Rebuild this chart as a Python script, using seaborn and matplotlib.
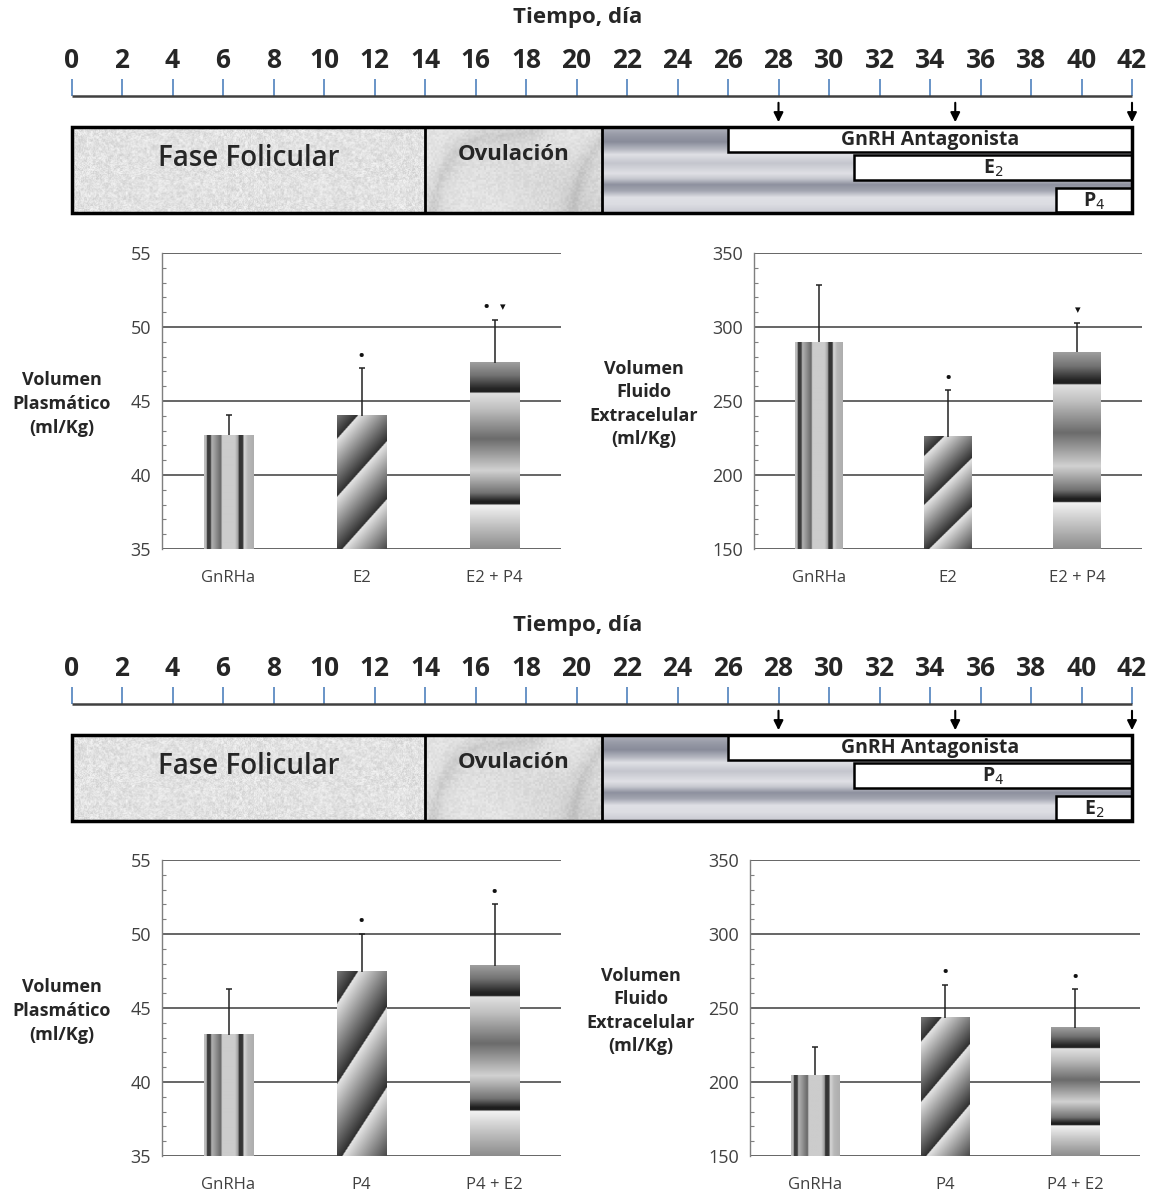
import numpy as np
import seaborn as sns
import matplotlib.pyplot as plt
from matplotlib.patches import Rectangle
from matplotlib.ticker import AutoMinorLocator, MultipleLocator

# ---- datos de la linea de tiempo ----
dias = list(range(0, 43, 2))
fases = ["Fase Folicular", "Ovulación"]
fase_ini = [0, 14]
fase_fin = [14, 21]
fin_ciclo = 42
dias_inyeccion = [28, 35, 42]
trat_ini = [26, 31, 39]
trat_sup = ["GnRH Antagonista", "E$_2$", "P$_4$"]
trat_inf = ["GnRH Antagonista", "P$_4$", "E$_2$"]

# ---- datos de las barras ----
grupos_sup = ["GnRHa", "E2", "E2 + P4"]
vp_sup = [42.7, 44.0, 47.6]
vp_sup_err = [1.35, 3.2, 2.9]
vp_sup_sig = [[], ["•"], ["•", "▾"]]
vfe_sup = [289.6, 225.7, 282.9]
vfe_sup_err = [39.0, 31.5, 19.8]
vfe_sup_sig = [[], ["•"], ["▾"]]

grupos_inf = ["GnRHa", "P4", "P4 + E2"]
vp_inf = [43.2, 47.45, 47.85]
vp_inf_err = [3.1, 2.55, 4.15]
vp_inf_sig = [[], ["•"], ["•"]]
vfe_inf = [204.5, 243.5, 236.7]
vfe_inf_err = [18.9, 22.3, 25.9]
vfe_inf_sig = [[], ["•"], ["•"]]

W, H = 1156, 1193
sns.set_theme(style="white")
plt.rcParams["font.family"] = ["Open Sans", "DejaVu Sans"]
fig = plt.figure(figsize=(W / 100, H / 100), dpi=100)


# ---- texturas (decorativas) ----
def ruido(i, j, s=0.0):
    v = np.sin(i * 12.9898 + j * 78.233 + s) * 43758.5453
    return v - np.floor(v)


yy, xx = np.mgrid[0:88, 0:356].astype(float)
granito = 0.80 + 0.17 * (0.6 * ruido(xx, yy) + 0.4 * ruido(xx // 3, yy // 3, 1.7))

yy, xx = np.mgrid[0:88, 0:180].astype(float)
xn, yn = xx / 88.0, yy / 88.0
t = np.sin(2.2 * (xn + 1.2 * yn) + 1.0 * np.sin(2.0 * yn + 1.0) + 0.6 * np.sin(3.5 * xn))
marmol = 0.92 - 0.09 * (1 - np.abs(t)) ** 2 - 0.07 * (0.5 + 0.5 * np.sin(2 * xn - 3 * yn)) * yn
marmol -= 0.06 * ruido(xx // 2, yy // 2, 3.1)

tt = np.linspace(0, 1, 200)
perfil = np.interp(tt, [0, 0.08, 0.17, 0.26, 0.32, 0.42, 0.54, 0.6, 0.67, 0.74, 0.82, 0.9, 1.0],
                   [0.6, 0.45, 0.35, 0.62, 0.86, 0.7, 0.86, 0.72, 0.38, 0.5, 0.86, 0.84, 0.72])
oscuro = np.array([0.30, 0.32, 0.40])
claro = np.array([0.97, 0.97, 0.98])
lutea = oscuro + (claro - oscuro) * perfil[:, None, None] * np.ones((1, 300, 1))

u = np.linspace(0, 1, 200)
rayas_v = np.tile(np.interp(u, [0, 0.05, 0.06, 0.13, 0.15, 0.22, 0.34, 0.36, 0.62, 0.69, 0.70, 0.78, 0.80, 0.88, 1.0],
                            [0.75, 0.72, 0.22, 0.25, 0.7, 0.6, 0.4, 0.8, 0.8, 0.6, 0.2, 0.22, 0.85, 0.72, 0.68]), (10, 1))

vv, uu = np.mgrid[0:1:300j, 0:1:100j]
fase = 2.3 * vv - 0.95 * uu + 0.1
diagonal = 0.18 + 0.72 * (fase - np.floor(fase))

vv = np.linspace(0, 1, 400)
bandas = np.interp(vv, [0, 0.12, 0.235, 0.24, 0.255, 0.3, 0.42, 0.59, 0.75, 0.835, 0.84, 0.86, 0.93, 1.0],
                   [0.55, 0.75, 0.95, 0.12, 0.12, 0.45, 0.82, 0.42, 0.75, 0.88, 0.12, 0.15, 0.45, 0.62])[:, None] * np.ones((1, 10))
patrones = [rayas_v, diagonal, bandas]


def linea_tiempo(y0, tratamientos):
    ax = fig.add_axes([0, 1 - (y0 + 230) / H, 1, 230 / H])
    ax.axis("off")
    fig.text(0.5, 1 - (y0 + 18) / H, "Tiempo, día", fontsize=16, fontweight="bold", ha="center", va="center")
    for d in dias:
        ax.text(d, 61, str(d), ha="center", va="center", fontsize=19, fontweight="bold")
    ax.vlines(dias, 79, 96, color="#4f81bd", lw=1.2)
    ax.hlines(96, 0, fin_ciclo, color="#404040", lw=1.8)
    for d in dias_inyeccion:
        ax.annotate("", xy=(d, 125), xytext=(d, 100),
                    arrowprops=dict(arrowstyle="-|>", color="black", lw=1.5, mutation_scale=14))
    ax.imshow(granito, cmap="gray", vmin=0, vmax=1, extent=[fase_ini[0], fase_fin[0], 213, 127],
              aspect="auto", interpolation="bilinear")
    ax.imshow(marmol, cmap="gray", vmin=0, vmax=1, extent=[fase_ini[1], fase_fin[1], 213, 127],
              aspect="auto", interpolation="bilinear")
    ax.imshow(lutea, extent=[fase_fin[1], fin_ciclo, 213, 127], aspect="auto", interpolation="bilinear")
    ax.add_patch(Rectangle((0, 127), fin_ciclo, 86, fill=False, ec="black", lw=2.5, zorder=6))
    ax.vlines(fase_fin, 127, 213, color="black", lw=2, zorder=6)
    ax.text(7, 158, fases[0], ha="center", va="center", fontsize=20, fontweight="semibold", zorder=7)
    ax.text(17.5, 155, fases[1], ha="center", va="center", fontsize=16, fontweight="bold", zorder=7)
    filas = [(127, 25), (155, 25), (188, 24)]
    for ini, nombre, (top, alto) in zip(trat_ini, tratamientos, filas):
        ax.add_patch(Rectangle((ini, top), fin_ciclo - ini, alto, fc="white", ec="black", lw=1.8, zorder=5))
        ax.text((ini + fin_ciclo) / 2, top + alto / 2 + 1, nombre, ha="center", va="center",
                fontsize=14, fontweight="bold", zorder=7)
    ax.set_xlim(-71.5 / 25.25, (W - 71.5) / 25.25)
    ax.set_ylim(230, 0)


def barras(caja, grupos, valores, errores, sig, lim, paso, etiqueta, lab_x):
    l, r, tp, b = caja
    ax = fig.add_axes([l / W, 1 - b / H, (r - l) / W, (b - tp) / H])
    sns.barplot(x=grupos, y=valores, color="white", width=0.37, errorbar=None, ax=ax, linewidth=0)
    for patch, patron, v in zip(ax.patches, patrones, valores):
        x0 = patch.get_x()
        ax.imshow(patron, cmap="gray", vmin=0, vmax=1, origin="lower", aspect="auto",
                  extent=[x0, x0 + patch.get_width(), lim[0], v], interpolation="bilinear", zorder=2)
    xs = np.arange(len(grupos))
    eb = ax.errorbar(xs, valores, yerr=[np.zeros(len(grupos)), errores], fmt="none", ecolor="#222222",
                     elinewidth=1.1, capsize=2.5, capthick=1.1, zorder=3)
    # solo se ve el tope superior de la barra de error
    for cap in eb[1]:
        if np.allclose(cap.get_ydata(), valores):
            cap.set_visible(False)
    for x, v, e, simbolos in zip(xs, valores, errores, sig):
        n = len(simbolos)
        for k, s in enumerate(simbolos):
            dx = (k - (n - 1) / 2) * 12
            ax.annotate(s, (x, v + e), xytext=(dx, 2 if s == "•" else 5), textcoords="offset points",
                        ha="center", va="bottom", fontsize=14 if s == "•" else 8, color="#111111")
    ax.set_xlim(-0.5, len(grupos) - 0.5)
    ax.set_ylim(*lim)
    ax.yaxis.set_major_locator(MultipleLocator(paso))
    ax.yaxis.set_minor_locator(AutoMinorLocator(5))
    ax.yaxis.grid(True, color="#595959", lw=1.3)
    ax.set_axisbelow(True)
    for lado in ["top", "right", "bottom"]:
        ax.spines[lado].set_visible(False)
    ax.spines["left"].set_color("#7f7f7f")
    ax.spines["left"].set_linewidth(1.0)
    ax.tick_params(axis="y", which="major", direction="out", length=5, width=1.3, color="#595959",
                   labelsize=13, labelcolor="#404040", pad=3)
    ax.tick_params(axis="y", which="minor", direction="in", length=3, width=0.8, color="#7f7f7f", left=True)
    ax.tick_params(axis="x", length=0, labelsize=12, labelcolor="#404040", pad=15)
    ax.set_xlabel("")
    ax.set_ylabel(etiqueta, rotation=0, fontsize=13, fontweight="bold", ha="center", va="center",
                  linespacing=1.4)
    ax.yaxis.set_label_coords(lab_x, 0.49)


linea_tiempo(0, trat_sup)
linea_tiempo(608, trat_inf)

lab_vp = "Volumen\nPlasmático\n(ml/Kg)"
lab_vfe = "Volumen\nFluido\nExtracelular\n(ml/Kg)"
barras((162, 561, 253, 549), grupos_sup, vp_sup, vp_sup_err, vp_sup_sig, (35, 55), 5, lab_vp, -0.252)
barras((754, 1142, 253, 549), grupos_sup, vfe_sup, vfe_sup_err, vfe_sup_sig, (150, 350), 50, lab_vfe, -0.284)
barras((162, 561, 860, 1156), grupos_inf, vp_inf, vp_inf_err, vp_inf_sig, (35, 55), 5, lab_vp, -0.252)
barras((750, 1140, 860, 1156), grupos_inf, vfe_inf, vfe_inf_err, vfe_inf_sig, (150, 350), 50, lab_vfe, -0.28)

fig.savefig("out.png", dpi=100)
